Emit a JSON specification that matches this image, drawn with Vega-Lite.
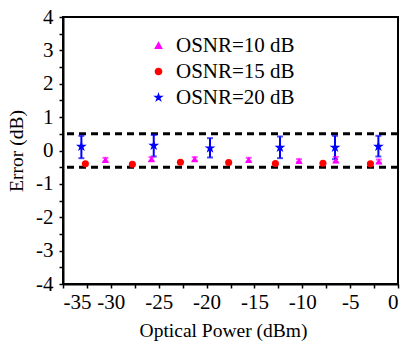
{
  "$schema": "https://vega.github.io/schema/vega-lite/v6.json",
  "width": 335,
  "height": 267,
  "autosize": "none",
  "padding": {"left": 63, "top": 17, "right": 7, "bottom": 60},
  "config": {
    "font": "Liberation Serif",
    "view": {"stroke": "black", "strokeWidth": 2},
    "axis": {
      "grid": false,
      "domainColor": "black",
      "domainWidth": 2,
      "tickColor": "black",
      "tickWidth": 1.5,
      "labelFont": "Liberation Serif",
      "labelFontSize": 21,
      "labelColor": "black",
      "titleFont": "Liberation Serif",
      "titleFontSize": 19.5,
      "titleFontWeight": "normal",
      "titleColor": "black"
    },
    "legend": {
      "labelFont": "Liberation Serif",
      "labelFontSize": 21,
      "labelColor": "black",
      "symbolOpacity": 1
    }
  },
  "datasets": {
    "pts": [
      {"series": "OSNR=10 dB", "x": -30.57, "y": -0.28, "lo": -0.33, "hi": -0.22},
      {"series": "OSNR=10 dB", "x": -25.76, "y": -0.26, "lo": -0.31, "hi": -0.2},
      {"series": "OSNR=10 dB", "x": -21.24, "y": -0.26, "lo": -0.31, "hi": -0.2},
      {"series": "OSNR=10 dB", "x": -15.6, "y": -0.28, "lo": -0.33, "hi": -0.22},
      {"series": "OSNR=10 dB", "x": -10.34, "y": -0.31, "lo": -0.35, "hi": -0.26},
      {"series": "OSNR=10 dB", "x": -6.5, "y": -0.3, "lo": -0.35, "hi": -0.19},
      {"series": "OSNR=10 dB", "x": -2.0, "y": -0.33, "lo": -0.38, "hi": -0.27},
      {"series": "OSNR=15 dB", "x": -32.66, "y": -0.4},
      {"series": "OSNR=15 dB", "x": -27.75, "y": -0.41},
      {"series": "OSNR=15 dB", "x": -22.73, "y": -0.35},
      {"series": "OSNR=15 dB", "x": -17.69, "y": -0.36},
      {"series": "OSNR=15 dB", "x": -12.81, "y": -0.39},
      {"series": "OSNR=15 dB", "x": -7.84, "y": -0.38},
      {"series": "OSNR=15 dB", "x": -2.88, "y": -0.4},
      {"series": "OSNR=20 dB", "x": -33.08, "y": 0.12, "lo": -0.23, "hi": 0.44},
      {"series": "OSNR=20 dB", "x": -25.52, "y": 0.15, "lo": -0.18, "hi": 0.47},
      {"series": "OSNR=20 dB", "x": -19.64, "y": 0.07, "lo": -0.21, "hi": 0.37},
      {"series": "OSNR=20 dB", "x": -12.33, "y": 0.09, "lo": -0.23, "hi": 0.42},
      {"series": "OSNR=20 dB", "x": -6.58, "y": 0.09, "lo": -0.26, "hi": 0.44},
      {"series": "OSNR=20 dB", "x": -2.05, "y": 0.12, "lo": -0.18, "hi": 0.44}
    ],
    "refs": [{"y": 0.5}, {"y": -0.5}]
  },
  "encoding": {
    "x": {
      "field": "x", "type": "quantitative",
      "scale": {"domain": [-35, 0], "nice": false, "zero": false},
      "title": "Optical Power (dBm)",
      "axis": {
        "values": [-35, -32.5, -30, -27.5, -25, -22.5, -20, -17.5, -15, -12.5, -10, -7.5, -5, -2.5, 0],
        "labelExpr": "datum.value % 5 === 0 ? '' + datum.value : ''",
        "labelFont": "Liberation Serif",
        "tickSize": 4,
        "labelPadding": 3,
        "titlePadding": 9,
        "titleX": 160
      }
    },
    "y": {
      "field": "y", "type": "quantitative",
      "scale": {"domain": [-4, 4], "nice": false, "zero": false},
      "title": "Error (dB)",
      "axis": {
        "values": [-4, -3.5, -3, -2.5, -2, -1.5, -1, -0.5, 0, 0.5, 1, 1.5, 2, 2.5, 3, 3.5, 4],
        "labelExpr": "datum.value % 1 === 0 ? '' + datum.value : ''",
        "labelFont": "Liberation Serif",
        "tickSize": 4,
        "labelPadding": 6,
        "titlePadding": 9
      }
    }
  },
  "layer": [
    {
      "data": {"name": "refs"},
      "mark": {"type": "rule", "strokeDash": [7, 5], "strokeWidth": 3, "color": "black"},
      "encoding": {
        "x": null
      }
    },
    {
      "data": {"name": "pts"},
      "transform": [{"filter": "isValid(datum.lo)"}],
      "mark": {"type": "rule", "strokeWidth": 2},
      "encoding": {
        "y": {"field": "lo", "type": "quantitative"},
        "y2": {"field": "hi"},
        "color": {"field": "series", "type": "nominal"}
      }
    },
    {
      "data": {"name": "pts"},
      "transform": [{"filter": "isValid(datum.lo)"}],
      "mark": {"type": "tick", "orient": "horizontal", "size": 6, "thickness": 2},
      "encoding": {
        "y": {"field": "lo", "type": "quantitative"},
        "color": {"field": "series", "type": "nominal"}
      }
    },
    {
      "data": {"name": "pts"},
      "transform": [{"filter": "isValid(datum.hi)"}],
      "mark": {"type": "tick", "orient": "horizontal", "size": 6, "thickness": 2},
      "encoding": {
        "y": {"field": "hi", "type": "quantitative"},
        "color": {"field": "series", "type": "nominal"}
      }
    },
    {
      "data": {"name": "pts"},
      "mark": {"type": "point", "filled": true, "opacity": 1},
      "encoding": {
        "color": {"field": "series", "type": "nominal", "title": null,
          "scale": {"domain": ["OSNR=10 dB", "OSNR=15 dB", "OSNR=20 dB"], "range": ["#ff00ff", "#ff0000", "#0000ff"]},
          "legend": {"orient": "none", "legendX": 85, "legendY": 18, "symbolSize": 38, "labelOffset": 7, "rowPadding": 4}},
        "shape": {"field": "series", "type": "nominal", "title": null,
          "scale": {"domain": ["OSNR=10 dB", "OSNR=15 dB", "OSNR=20 dB"], "range": ["triangle-up", "circle", "M0,-1L0.2245,-0.309L0.951,-0.309L0.363,0.118L0.588,0.809L0,0.382L-0.588,0.809L-0.363,0.118L-0.951,-0.309L-0.2245,-0.309Z"]}},
        "size": {"condition": {"test": "datum.series === 'OSNR=20 dB'", "value": 130}, "value": 50}
      }
    }
  ]
}
